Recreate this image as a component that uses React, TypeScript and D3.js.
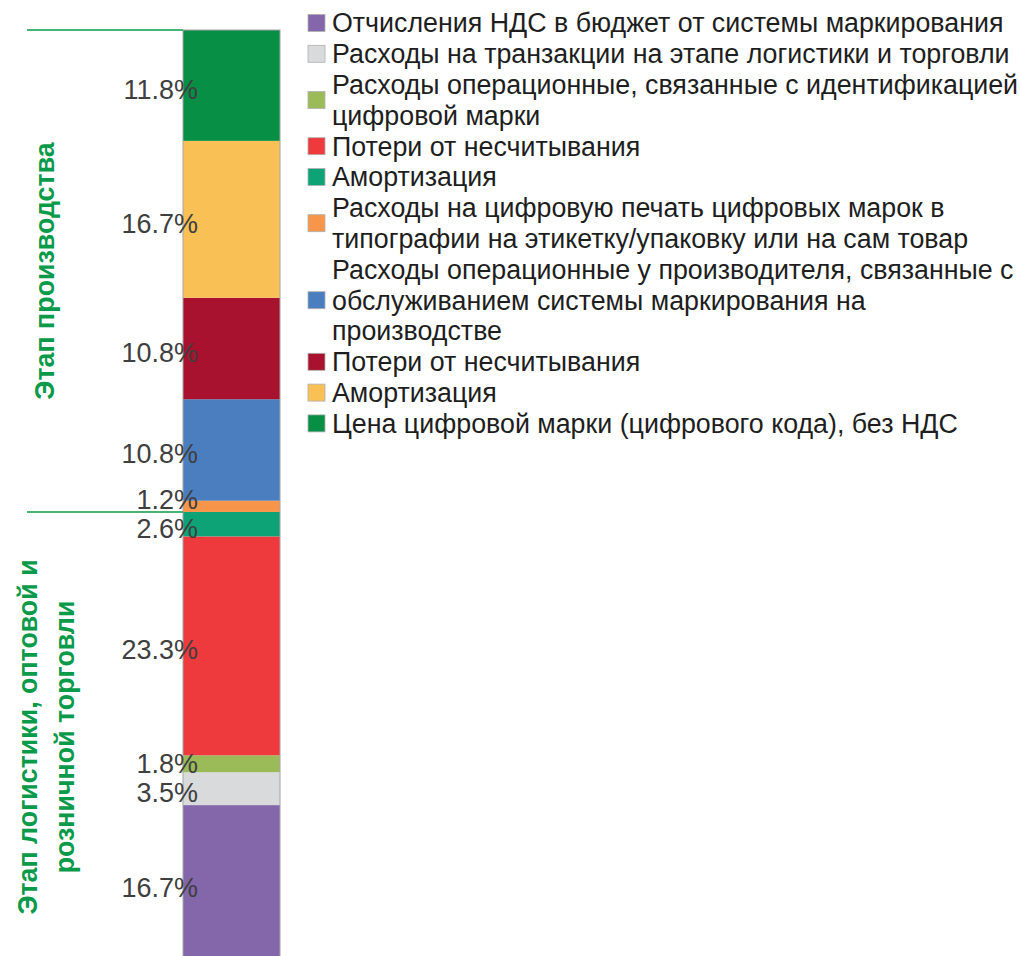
import React, { useEffect, useRef } from 'react';
import * as d3 from 'd3';

// stack order: bottom -> top (same as legend order top -> bottom)
const labels = [
  'Отчисления НДС в бюджет от системы маркирования',
  'Расходы на транзакции на этапе логистики и торговли',
  'Расходы операционные, связанные с идентификацией\nцифровой марки',
  'Потери от несчитывания',
  'Амортизация',
  'Расходы на цифровую печать цифровых марок в\nтипографии на этикетку/упаковку или на сам товар',
  'Расходы операционные у производителя, связанные с\nобслуживанием системы маркирования на\nпроизводстве',
  'Потери от несчитывания',
  'Амортизация',
  'Цена цифровой марки (цифрового кода), без НДС',
];
const values = [16.7, 3.5, 1.8, 23.3, 2.6, 1.2, 10.8, 10.8, 16.7, 11.8];
const colors = [
  '#8466aa', '#d9dadc', '#9bbb59', '#ee3a3d', '#0ea377',
  '#f7964a', '#4a7ebf', '#a8122e', '#f9c155', '#068f45',
];
const stages = ['logistics', 'logistics', 'logistics', 'logistics', 'logistics',
  'production', 'production', 'production', 'production', 'production'];
const stageTitles: Record<string, string[]> = {
  production: ['Этап производства'],
  logistics: ['Этап логистики, оптовой и', 'розничной торговли'],
};

const W = 1020;
const H = 956;

export default function App() {
  const ref = useRef<SVGSVGElement>(null);

  useEffect(() => {
    const svg = d3.select(ref.current);
    svg.selectAll('*').remove();

    const total = d3.sum(values);
    const ends = Array.from(d3.cumsum(values));
    const starts = ends.map((e, i) => e - values[i]);

    const barX = 183;
    const barW = 97;
    const y = d3.scaleLinear().domain([0, total]).range([962, 30]);

    const green = '#0a9a4a';
    const fontLbl = '"Liberation Sans", Arial, sans-serif';

    // segments
    const bar = svg.append('g');
    bar.selectAll('rect')
      .data(values)
      .enter().append('rect')
      .attr('x', barX)
      .attr('width', barW)
      .attr('y', (d, i) => y(ends[i]))
      .attr('height', (d, i) => y(starts[i]) - y(ends[i]))
      .attr('fill', (d, i) => colors[i]);
    bar.append('rect')
      .attr('x', barX)
      .attr('y', y(total))
      .attr('width', barW)
      .attr('height', y(0) - y(total))
      .attr('fill', 'none')
      .attr('stroke', '#a6a6a6')
      .attr('stroke-width', 1);

    // stage separators and titles
    const prodStart = d3.min(starts.filter((s, i) => stages[i] === 'production')) as number;
    [total, prodStart].forEach((v) => {
      svg.append('line')
        .attr('x1', 27).attr('x2', barX)
        .attr('y1', y(v)).attr('y2', y(v))
        .attr('stroke', green)
        .attr('stroke-width', 1.5);
    });
    const stageSpan: Record<string, [number, number]> = {
      production: [prodStart, total],
      logistics: [0, prodStart],
    };
    Object.keys(stageTitles).forEach((k) => {
      const lines = stageTitles[k];
      const cy = (y(stageSpan[k][0]) + y(stageSpan[k][1])) / 2;
      const lh = 37;
      const cx0 = lines.length === 1 ? 45 : 28;
      lines.forEach((t, j) => {
        const cx = cx0 + j * lh;
        svg.append('text')
          .attr('transform', `translate(${cx},${cy}) rotate(-90)`)
          .attr('text-anchor', 'middle')
          .attr('dy', '0.35em')
          .style('font-family', fontLbl)
          .style('font-weight', 'bold')
          .style('font-size', '26.8px')
          .style('fill', green)
          .text(t);
      });
    });

    // percent labels, pushed apart bottom-up when they collide
    const pos = values.map((v, i) => (y(starts[i]) + y(ends[i])) / 2 + 4);
    const minGap = 29;
    for (let i = 1; i < pos.length; i++) {
      if (pos[i - 1] - pos[i] < minGap) pos[i] = pos[i - 1] - minGap;
    }
    svg.append('g').selectAll('text')
      .data(values)
      .enter().append('text')
      .attr('x', 198)
      .attr('y', (d, i) => pos[i])
      .attr('dy', '0.35em')
      .attr('text-anchor', 'end')
      .style('font-family', fontLbl)
      .style('font-size', '27px')
      .style('fill', '#3f3f3f')
      .text((d) => `${d.toFixed(1)}%`);

    // legend
    const lineH = 30.8;
    const legendTop = 23;
    const legend = svg.append('g');
    let k = 0;
    labels.forEach((lab, i) => {
      const lines = lab.split('\n');
      const c0 = legendTop + k * lineH;
      const cMid = c0 + ((lines.length - 1) * lineH) / 2;
      legend.append('rect')
        .attr('x', 308)
        .attr('y', cMid - 8.5)
        .attr('width', 17)
        .attr('height', 17)
        .attr('fill', colors[i])
        .attr('stroke', '#b0b0b0')
        .attr('stroke-width', 0.8);
      lines.forEach((t, j) => {
        legend.append('text')
          .attr('x', 332)
          .attr('y', c0 + j * lineH)
          .attr('dy', '0.35em')
          .style('font-family', fontLbl)
          .style('font-size', '26.8px')
          .style('fill', '#1e1e1e')
          .text(t);
      });
      k += lines.length;
    });
  }, []);

  return (
    <div style={{ position: 'absolute', left: 0, top: 0 }}>
      <svg ref={ref} width={W} height={H} style={{ display: 'block', background: '#fff' }} />
    </div>
  );
}
